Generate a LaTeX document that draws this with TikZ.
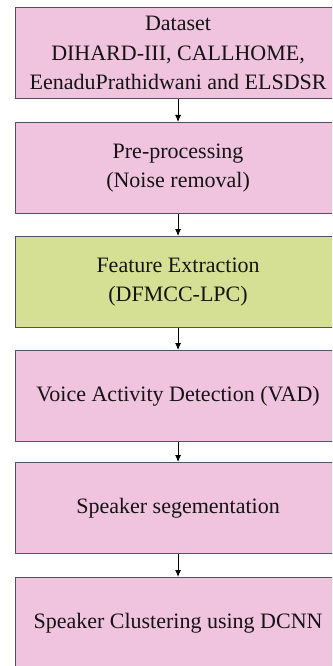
\documentclass[tikz,border=0pt]{standalone}
\usepackage{fontspec}
\setmainfont{Liberation Serif}
\usetikzlibrary{arrows.meta}
\definecolor{pinkfill}{RGB}{240,195,223}
\definecolor{greenfill}{RGB}{213,224,148}
\definecolor{edgecol}{RGB}{80,80,106}
\definecolor{txtcol}{RGB}{20,20,20}
\tikzset{
  stagebox/.style={draw=edgecol, line width=1.1pt, fill=pinkfill, text=txtcol,
    minimum width=325pt, minimum height=91pt, anchor=north west,
    align=center, inner sep=0pt,
    font=\fontsize{22pt}{29.5pt}\selectfont},
  flowarrow/.style={draw=black, line width=0.8pt, -{Latex[length=7pt,width=6pt]}}
}
\begin{document}
\begin{tikzpicture}[x=1pt,y=-1pt]
\useasboundingbox (0,0) rectangle (332,666);
\clip (0,0) rectangle (332,666);
\node[stagebox] (b1) at (15,7) {\raisebox{-3pt}{\parbox{320pt}{\centering Dataset\\DIHARD-III, CALLHOME,\\EenaduPrathidwani and ELSDSR}}};
\node[stagebox] (b2) at (15,122) {Pre-processing\\(Noise removal)};
\node[stagebox, fill=greenfill] (b3) at (15,236) {Feature Extraction\\(DFMCC-LPC)};
\node[stagebox] (b4) at (15,350) {Voice Activity Detection (VAD)};
\node[stagebox] (b5) at (15,462) {Speaker segementation};
\node[stagebox] (b6) at (15,577) {Speaker Clustering using DCNN};
\draw[flowarrow] (b1.south) -- (b2.north);
\draw[flowarrow] (b2.south) -- (b3.north);
\draw[flowarrow] (b3.south) -- (b4.north);
\draw[flowarrow] (b4.south) -- (b5.north);
\draw[flowarrow] (b5.south) -- (b6.north);
\end{tikzpicture}
\end{document}
